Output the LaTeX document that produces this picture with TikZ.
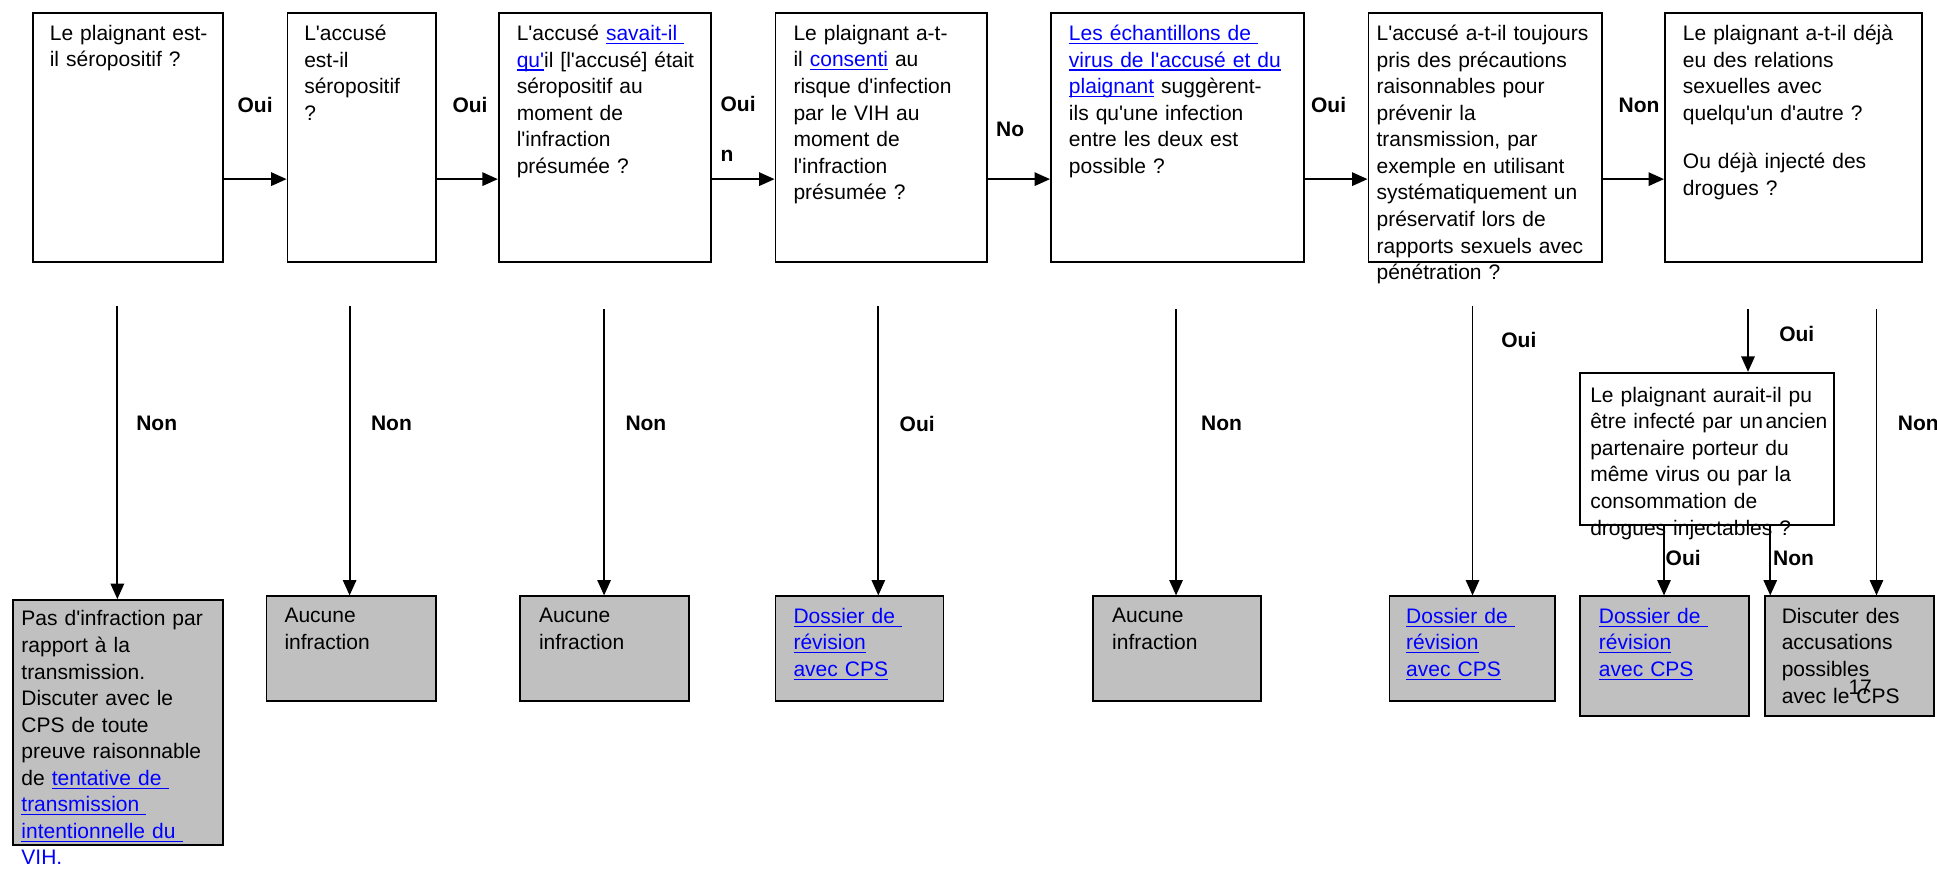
\documentclass[tikz,border=0pt]{standalone}
\usepackage{fontspec}
\setmainfont{Liberation Sans}[Ligatures=TeXOff]
\usetikzlibrary{arrows.meta,calc}
\definecolor{lnk}{RGB}{0,0,255}
\definecolor{boxgray}{RGB}{192,192,192}
\newcommand\myul[1]{\setbox0\hbox{#1}\leavevmode\rlap{\rule[-1.7pt]{\wd0}{0.6pt}}\box0}
\newcommand\lk[1]{{\color{lnk}\myul{#1}}}
\newcommand\mkbox[6]{\node[#6, minimum width={(#4-#2)*0.6pt}, minimum height={(#5-#3)*0.6pt}, anchor=north west] (#1) at (#2,#3) {};}
\tikzset{
  qbox/.style={draw, line width=0.9pt, inner sep=0pt, fill=white},
  rbox/.style={draw, line width=0.9pt, inner sep=0pt, fill=boxgray},
  txt/.style={anchor=north west, inner sep=0pt, align=left, text width=160pt, font=\fontsize{10.2}{12.9}\selectfont},
  lbl/.style={anchor=west, inner sep=0pt, font=\fontsize{10.2}{12.9}\selectfont\bfseries},
  arr/.style={line width=0.9pt, -{Triangle[length=7.5pt,width=6.5pt]}}
}
\begin{document}
\begin{tikzpicture}[x=0.6pt,y=-0.6pt]
\useasboundingbox (0,0) rectangle (1568,703);
\coordinate (hy) at (0,145);
% top question boxes
\mkbox{b1}{26}{10}{180}{211}{qbox}
\mkbox{b2}{232}{10}{352}{211}{qbox}
\mkbox{b3}{403}{10}{575}{211}{qbox}
\mkbox{b4}{627}{10}{798}{211}{qbox}
\mkbox{b5}{850}{10}{1055}{211}{qbox}
\mkbox{b6}{1107}{10}{1296}{211}{qbox}
\mkbox{b7}{1347}{10}{1555}{211}{qbox}
\node[txt] (t1) at (40,20) {Le plaignant est-\\il séropositif ?};
\node[txt] (t2) at (246,20) {L'accusé\\est-il\\séropositif\\?};
\node[txt] (t3) at (418,20) {L'accusé \lk{savait-il\ }\\\lk{qu'}il [l'accusé] était\\séropositif au\\moment de\\l'infraction\\présumée ?};
\node[txt] (t4) at (642,20) {Le plaignant a-t-\\il \lk{consenti} au\\risque d'infection\\par le VIH au\\moment de\\l'infraction\\présumée ?};
\node[txt] (t5) at (865,20) {\lk{Les échantillons de\ }\\\lk{virus de l'accusé et du}\\\lk{plaignant} suggèrent-\\ils qu'une infection\\entre les deux est\\possible ?};
\node[txt] (t6) at (1114,20) {L'accusé a-t-il toujours\\pris des précautions\\raisonnables pour\\prévenir la\\transmission, par\\exemple en utilisant\\systématiquement un\\préservatif lors de\\rapports sexuels avec\\pénétration ?};
\node[txt] (t7) at (1362,20) {Le plaignant a-t-il déjà\\eu des relations\\sexuelles avec\\quelqu'un d'autre ?\\[10.5pt]Ou déjà injecté des\\drogues ?};
% horizontal arrows
\draw[arr] (b1.east |- hy) -- (b2.west |- hy);
\draw[arr] (b2.east |- hy) -- (b3.west |- hy);
\draw[arr] (b3.east |- hy) -- (b4.west |- hy);
\draw[arr] (b4.east |- hy) -- (b5.west |- hy);
\draw[arr] (b5.east |- hy) -- (b6.west |- hy);
\draw[arr] (b6.east |- hy) -- (b7.west |- hy);
\node[lbl] (l1) at (192,85) {Oui};
\node[lbl] (l2) at (366,85) {Oui};
\node[lbl, anchor=north west, align=left] (l3) at (583,78) {Oui\\[11.2pt]n};
\node[lbl] (l4) at (806,105) {No};
\node[lbl] (l5) at (1061,85) {Oui};
\node[lbl] (l6) at (1310,85) {Non};
% result boxes
\mkbox{rA}{10}{485}{180}{683}{rbox}
\mkbox{rB}{215}{482}{352}{567}{rbox}
\mkbox{rC}{420}{482}{557}{567}{rbox}
\mkbox{rD}{627}{482}{763}{567}{rbox}
\mkbox{rE}{884}{482}{1020}{567}{rbox}
\mkbox{rF}{1124}{482}{1258}{567}{rbox}
\mkbox{rG}{1278}{482}{1415}{579}{rbox}
\mkbox{rH}{1428}{482}{1565}{579}{rbox}
\mkbox{sub}{1278}{301}{1484}{424}{qbox}
\node[txt] (tA) at (17,494) {Pas d'infraction par\\rapport à la\\transmission.\\Discuter avec le\\CPS de toute\\preuve raisonnable\\de \lk{tentative de\ }\\\lk{transmission\ }\\\lk{intentionnelle du\ }\\{\color{lnk}VIH.}};
\node[txt] (tB) at (230,492) {Aucune\\infraction};
\node[txt] (tC) at (436,492) {Aucune\\infraction};
\node[txt] (tD) at (642,492) {\lk{Dossier de\ }\\\lk{révision}\\\lk{avec CPS}};
\node[txt] (tE) at (900,492) {Aucune\\infraction};
\node[txt] (tF) at (1138,492) {\lk{Dossier de\ }\\\lk{révision}\\\lk{avec CPS}};
\node[txt] (tG) at (1294,492) {\lk{Dossier de\ }\\\lk{révision}\\\lk{avec CPS}};
\node[txt] (tH) at (1442,492) {Discuter des\\accusations\\possibles\\avec le CPS};
\node[anchor=west, inner sep=0pt, font=\fontsize{10.2}{12.9}\selectfont] (pg) at (1496,556) {17};
\node[txt] (tS) at (1287,313) {Le plaignant aurait-il pu\\être infecté par un\hspace{1.2pt}ancien\\partenaire porteur du\\même virus ou par la\\consommation de\\drogues injectables ?};
% vertical connectors
\coordinate (s1) at (95,248);
\coordinate (s2) at (283,248);
\coordinate (s3) at (489,250);
\coordinate (s4) at (711,248);
\coordinate (s5) at (952,250);
\coordinate (s6) at (1192,248);
\coordinate (s7) at (1415,250);
\coordinate (s8) at (1519,250);
\draw[arr] (s1) -- (s1 |- rA.north);
\draw[arr] (s2) -- (s2 |- rB.north);
\draw[arr] (s3) -- (s3 |- rC.north);
\draw[arr] (s4) -- (s4 |- rD.north);
\draw[arr] (s5) -- (s5 |- rE.north);
\draw[arr] (s6) -- (s6 |- rF.north);
\draw[arr] (s7) -- (s7 |- sub.north);
\draw[arr] (s8) -- (s8 |- rH.north);
\coordinate (u1) at (1347,424);
\coordinate (u2) at (1433,424);
\draw[arr] (u1 |- sub.south) -- (u1 |- rG.north);
\draw[arr] (u2 |- sub.south) -- (u2 |- rH.north);
\node[lbl] (m1) at (110,343) {Non};
\node[lbl] (m2) at (300,343) {Non};
\node[lbl] (m3) at (506,343) {Non};
\node[lbl] (m4) at (728,343) {Oui};
\node[lbl] (m5) at (972,343) {Non};
\node[lbl] (m6) at (1215,275) {Oui};
\node[lbl] (m7) at (1440,270) {Oui};
\node[lbl] (m8) at (1536,343) {Non};
\node[lbl] (m9) at (1348,452) {Oui};
\node[lbl] (m10) at (1435,452) {Non};
\end{tikzpicture}
\end{document}
